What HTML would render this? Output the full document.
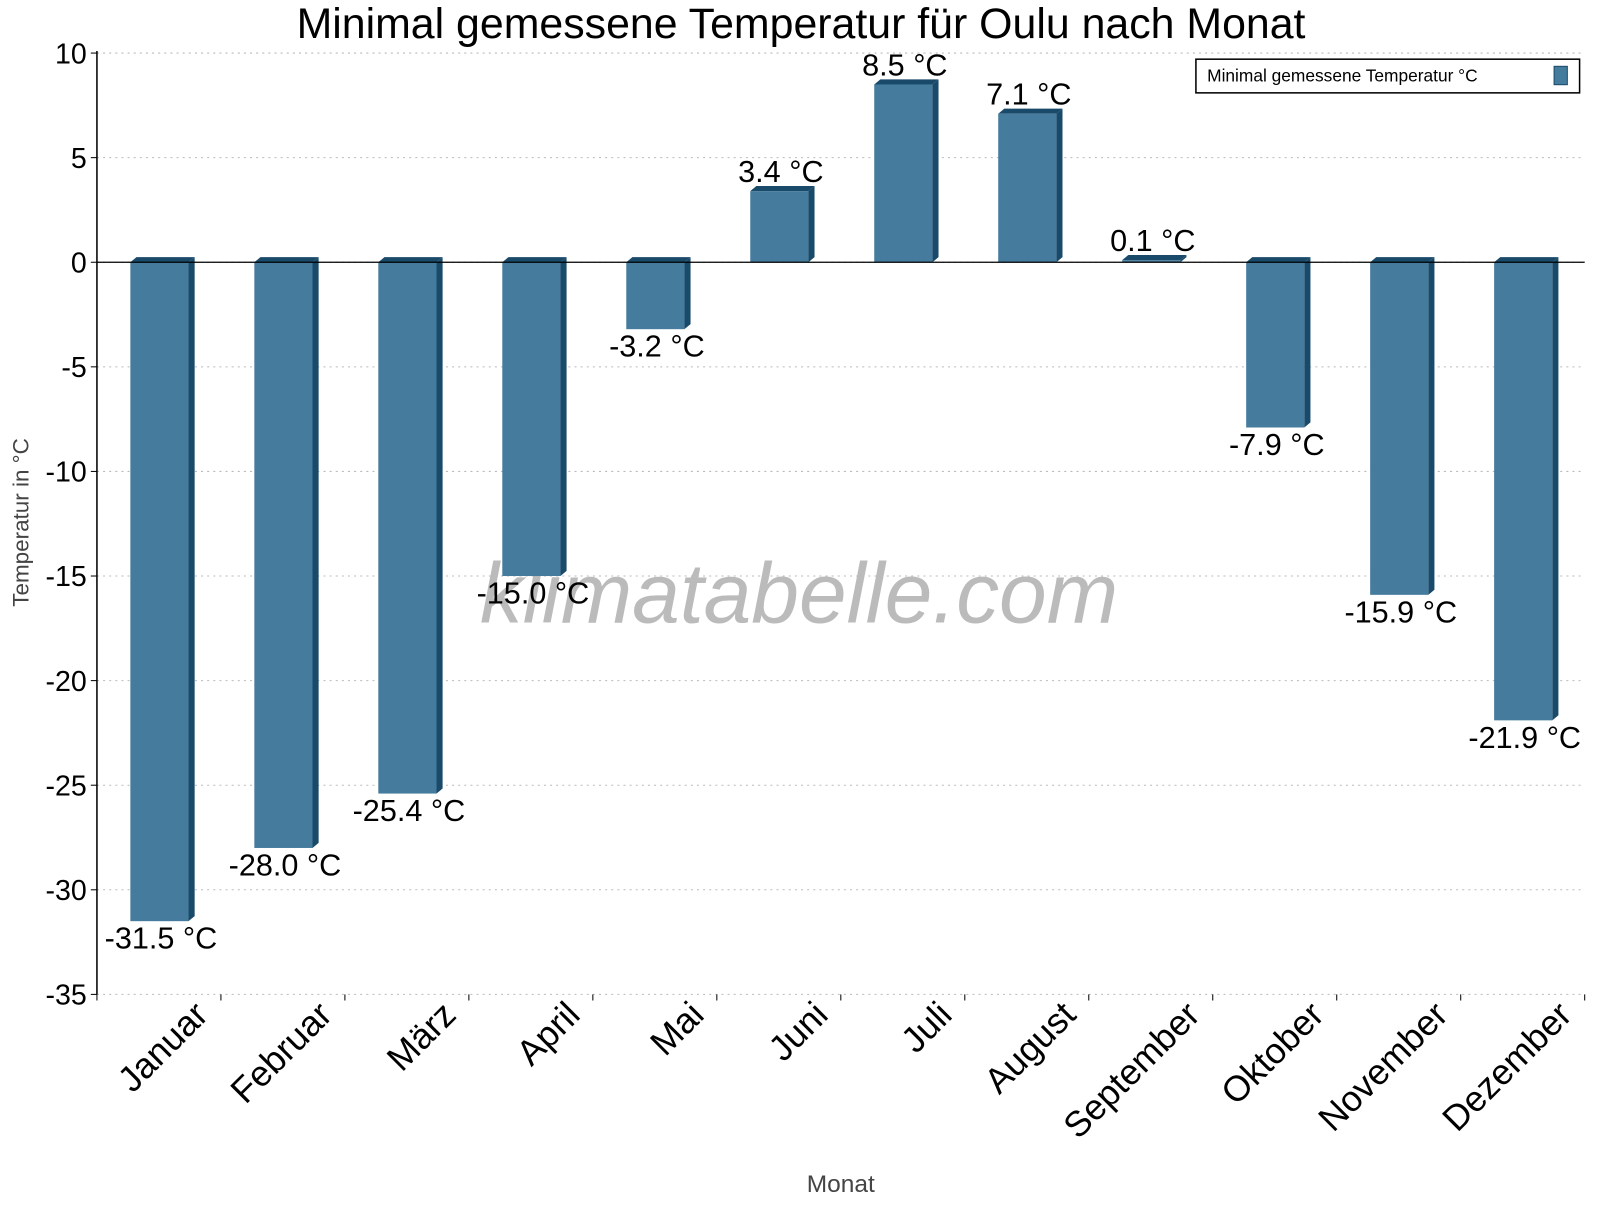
<!DOCTYPE html>
<html><head><meta charset="utf-8"><style>
body{margin:0;background:#fff}
svg text{font-family:"Liberation Sans",sans-serif}
</style></head><body>
<svg id="c" width="1600" height="1200" viewBox="0 0 1568 1176" xmlns="http://www.w3.org/2000/svg">
<text x="785" y="37" font-size="42" text-anchor="middle" fill="#000">Minimal gemessene Temperatur für Oulu nach Monat</text>
<text x="783" y="610" font-size="84" font-style="italic" text-anchor="middle" fill="#bbb">klimatabelle.com</text>
<g id="grid"></g><g id="bars"></g><g id="axes"></g>
<text transform="translate(28,512) rotate(-90)" font-size="22" text-anchor="middle" fill="#444">Temperatur in °C</text>
<text x="824" y="1168" font-size="24" text-anchor="middle" fill="#444">Monat</text>
<g>
<rect x="1172" y="58" width="376" height="33" fill="#fff" stroke="#000" stroke-width="1.5"/>
<text x="1183" y="80" font-size="17">Minimal gemessene Temperatur °C</text>
<rect x="1523" y="65" width="13" height="18" fill="#457b9d" stroke="#1a4a6a"/>
</g>
</svg>
<script>
const categories=["Januar","Februar","März","April","Mai","Juni","Juli","August","September","Oktober","November","Dezember"];
const values=[-31.5,-28.0,-25.4,-15.0,-3.2,3.4,8.5,7.1,0.1,-7.9,-15.9,-21.9];
const yTicks=[10,5,0,-5,-10,-15,-20,-25,-30,-35];
const NS="http://www.w3.org/2000/svg";
const X0=95,X1=1553,Y0=257,PX=20.5;
const cw=(X1-X0)/categories.length;
const y=v=>Y0-v*PX;
const xc=i=>X0+cw*(i+0.5);
function mk(p,t,a){const e=document.createElementNS(NS,t);for(const k in a)e.setAttribute(k,a[k]);p.appendChild(e);return e;}
const grid=document.getElementById('grid'),bars=document.getElementById('bars'),axes=document.getElementById('axes');
yTicks.forEach(v=>{
 const g=mk(grid,'line',{x1:X0,x2:X1,y1:y(v),y2:y(v),stroke:'#bbb','stroke-dasharray':'2,4'});
 
 
 const t=mk(axes,'text',{x:X0-10,y:y(v)+10,'font-size':28,'text-anchor':'end'});
 t.textContent=v;
 
 
 mk(axes,'line',{x1:X0-6,x2:X0,y1:y(v),y2:y(v),stroke:'#000'});
});
const ax=mk(axes,'line',{x1:X0,x2:X0,y1:y(10)-2,y2:y(-35),stroke:'#000','stroke-width':1.5});


const zl=mk(axes,'line',{x1:X0,x2:X1,y1:Y0,y2:Y0,stroke:'#000','stroke-width':1.2});


for(let i=0;i<=categories.length;i++){mk(axes,'line',{x1:X0+cw*i,x2:X0+cw*i,y1:y(-35),y2:y(-35)+6,stroke:'#000'});}
const W=57,D=6;
values.forEach((v,i)=>{
 const l=xc(i)-28,r=l+W,t=Math.min(y(v),Y0),b=Math.max(y(v),Y0);
 const g=mk(bars,'g',{});
 
 
 mk(g,'polygon',{points:`${r},${t} ${r+D},${t-5} ${r+D},${b-5} ${r},${b}`,fill:'#1a4a6a'});
 mk(g,'polygon',{points:`${l},${t} ${l+D},${t-5} ${r+D},${t-5} ${r},${t}`,fill:'#1a4a6a'});
 mk(g,'rect',{x:l,y:t,width:W,height:b-t,fill:'#457b9d'});
 const tx=mk(bars,'text',{x:xc(i)+2,y:v>=0?y(v)-9:y(v)+27,'font-size':30,'text-anchor':'middle'});
 tx.textContent=v.toFixed(1)+' °C';
 
 
 const cl=mk(axes,'text',{transform:`translate(${xc(i)+50},${y(-35)+22}) rotate(-45)`,'font-size':35,'text-anchor':'end'});
 cl.textContent=categories[i];
 
 
});
</script>
</body></html>
